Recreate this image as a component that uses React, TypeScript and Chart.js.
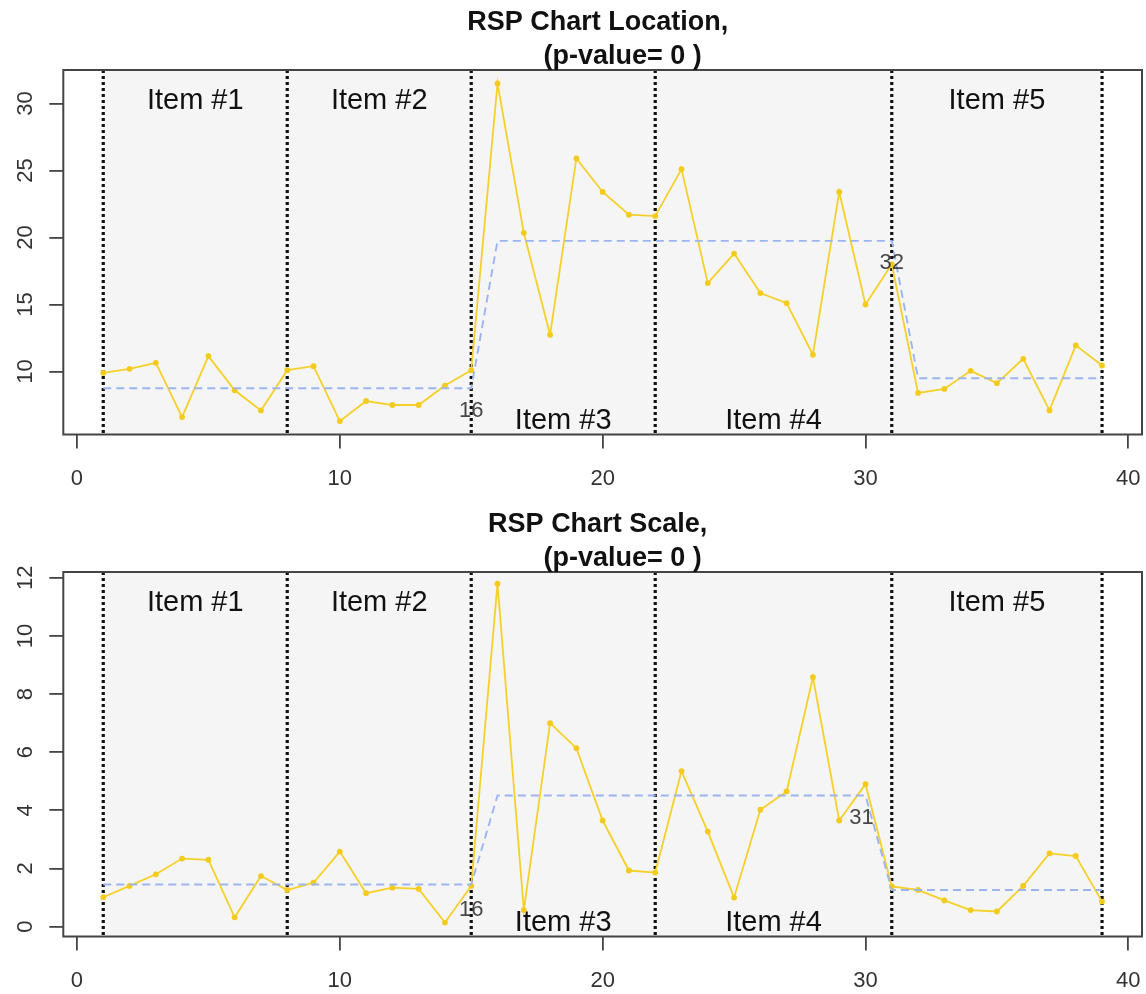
import React, { useEffect, useRef } from 'react';
import { Chart, registerables } from 'chart.js';

Chart.register(...registerables);

// ---------- data ----------
const observationIndex = [
  1, 2, 3, 4, 5, 6, 7, 8, 9, 10, 11, 12, 13, 14, 15, 16, 17, 18, 19, 20,
  21, 22, 23, 24, 25, 26, 27, 28, 29, 30, 31, 32, 33, 34, 35, 36, 37, 38, 39,
];

const locationValues = [
  9.9, 10.2, 10.65, 6.6, 11.15, 8.6, 7.1, 10.1, 10.4, 6.3, 7.8, 7.5, 7.5, 8.95, 10.1,
  31.5, 20.35, 12.75, 25.9, 23.4, 21.7, 21.6, 25.1, 16.6, 18.8, 15.85, 15.1, 11.25, 23.4, 15.0, 18.0,
  8.4, 8.7, 10.05, 9.13, 10.95, 7.1, 11.95, 10.45,
];

const scaleValues = [
  1.01, 1.4, 1.8, 2.34, 2.3, 0.32, 1.74, 1.26, 1.51, 2.58, 1.15, 1.34, 1.3, 0.14, 1.4,
  11.8, 0.57, 7.0, 6.14, 3.65, 1.93, 1.86, 5.35, 3.27, 1.0, 4.02, 4.65, 8.58, 3.65, 4.9,
  1.38, 1.26, 0.9, 0.57, 0.52, 1.4, 2.52, 2.43, 0.86,
];

const locationCenterX = [1, 15, 16, 31, 32, 39];
const locationCenterY = [8.75, 8.75, 19.75, 19.75, 9.5, 9.5];
const scaleCenterX = [1, 15, 16, 30, 31, 39];
const scaleCenterY = [1.45, 1.45, 4.51, 4.51, 1.26, 1.26];

const segmentBoundaries = [1, 8, 15, 22, 31, 39];
const itemLabels = ['Item #1', 'Item #2', 'Item #3', 'Item #4', 'Item #5'];
const itemLabelSides = ['top', 'top', 'bottom', 'bottom', 'top'];

const xTickValues = [0, 10, 20, 30, 40];
const locationYTicks = [10, 15, 20, 25, 30];
const scaleYTicks = [0, 2, 4, 6, 8, 10, 12];

const locationChangeText = ['16', '32'];
const locationChangeX = [15, 31];
const locationChangeY = [7.03, 18.1];
const scaleChangeText = ['16', '31'];
const scaleChangeX = [15, 29.85];
const scaleChangeY = [0.56, 3.73];

const locationTitle = ['RSP Chart Location,', '(p-value= 0 )'];
const scaleTitle = ['RSP Chart Scale,', '(p-value= 0 )'];

const xRange = [-0.52, 40.52];
const locationYRange = [5.3, 32.5];
const scaleYRange = [-0.34, 12.2];

// ---------- styling ----------
const FONT = "'Liberation Sans', Arial, Helvetica, sans-serif";
const YELLOW = '#f6d02a';
const BLUE = '#9db5ef';

const rspPlugin = {
  id: 'rspDecor',
  beforeDatasetsDraw(chart: any, _args: any, opts: any) {
    const { ctx, chartArea } = chart;
    const { top, bottom } = chartArea;
    const x = chart.scales.x;
    const b: number[] = opts.bounds;
    ctx.save();
    const x0 = x.getPixelForValue(b[0]);
    const x1 = x.getPixelForValue(b[b.length - 1]);
    ctx.fillStyle = '#f5f5f5';
    ctx.fillRect(x0, top, x1 - x0, bottom - top);
    ctx.strokeStyle = '#111111';
    ctx.lineWidth = 3.2;
    ctx.lineCap = 'butt';
    ctx.setLineDash([3, 3]);
    for (const v of b) {
      const px = x.getPixelForValue(v);
      ctx.beginPath();
      ctx.moveTo(px, top);
      ctx.lineTo(px, bottom);
      ctx.stroke();
    }
    ctx.restore();
  },
  afterDatasetsDraw(chart: any, _args: any, opts: any) {
    const { ctx, chartArea } = chart;
    const { top, bottom } = chartArea;
    const x = chart.scales.x;
    const y = chart.scales.y;
    const b: number[] = opts.bounds;
    ctx.save();
    ctx.font = `29px ${FONT}`;
    ctx.fillStyle = '#111111';
    ctx.textAlign = 'center';
    ctx.textBaseline = 'alphabetic';
    opts.labels.forEach((label: string, i: number) => {
      const mid = (x.getPixelForValue(b[i]) + x.getPixelForValue(b[i + 1])) / 2;
      const by = opts.sides[i] === 'top' ? top + 39.3 : bottom - 6;
      ctx.fillText(label, mid, by);
    });
    ctx.font = `22px ${FONT}`;
    ctx.fillStyle = 'rgba(40,40,40,0.85)';
    ctx.textBaseline = 'middle';
    opts.changeText.forEach((t: string, i: number) => {
      ctx.fillText(t, x.getPixelForValue(opts.changeX[i]), y.getPixelForValue(opts.changeY[i]));
    });
    ctx.restore();
  },
  afterDraw(chart: any, _args: any, opts: any) {
    const { ctx, chartArea } = chart;
    const { left, right, top, bottom } = chartArea;
    ctx.save();
    ctx.strokeStyle = '#444444';
    ctx.lineWidth = 2;
    ctx.setLineDash([]);
    ctx.strokeRect(left, top, right - left, bottom - top);
    const cx = (left + right) / 2;
    ctx.font = `bold 27px ${FONT}`;
    ctx.fillStyle = '#111111';
    ctx.textAlign = 'center';
    ctx.textBaseline = 'alphabetic';
    ctx.fillText(opts.title[0], cx - 5, 30);
    ctx.fillText(opts.title[1], cx + 20, 64);
    ctx.restore();
  },
};

type PanelSpec = {
  values: number[];
  centerX: number[];
  centerY: number[];
  yRange: number[];
  yTicks: number[];
  changeText: string[];
  changeX: number[];
  changeY: number[];
  title: string[];
  height: number;
};

function makeConfig(p: PanelSpec): any {
  return {
    type: 'line',
    data: {
      datasets: [
        {
          data: p.centerX.map((xv, i) => ({ x: xv, y: p.centerY[i] })),
          borderColor: BLUE,
          borderWidth: 1.9,
          borderDash: [8, 5],
          pointRadius: 0,
          fill: false,
          tension: 0,
        },
        {
          data: observationIndex.map((xv, i) => ({ x: xv, y: p.values[i] })),
          borderColor: YELLOW,
          backgroundColor: YELLOW,
          borderWidth: 1.8,
          pointRadius: 2.9,
          pointBorderWidth: 0,
          pointBackgroundColor: '#f3cb1c',
          fill: false,
          tension: 0,
        },
      ],
    },
    options: {
      responsive: false,
      animation: false,
      devicePixelRatio: 1,
      layout: { padding: { top: 70, left: 0, right: 3, bottom: 0 } },
      plugins: {
        legend: { display: false },
        tooltip: { enabled: false },
        title: { display: false },
        rspDecor: {
          bounds: segmentBoundaries,
          labels: itemLabels,
          sides: itemLabelSides,
          changeText: p.changeText,
          changeX: p.changeX,
          changeY: p.changeY,
          title: p.title,
        },
      },
      scales: {
        x: {
          type: 'linear',
          min: xRange[0],
          max: xRange[1],
          afterBuildTicks: (s: any) => {
            s.ticks = xTickValues.map((value) => ({ value }));
          },
          afterFit: (s: any) => {
            s.height = p.height - 434.5;
            s.paddingLeft = 0;
            s.paddingRight = 0;
          },
          grid: { drawOnChartArea: false, drawTicks: true, tickLength: 14, color: '#444444', lineWidth: 1.8 },
          border: { display: false },
          ticks: { font: { family: FONT, size: 22 }, color: '#333333', padding: 17, maxRotation: 0, minRotation: 0, autoSkip: false },
        },
        y: {
          type: 'linear',
          min: p.yRange[0],
          max: p.yRange[1],
          afterBuildTicks: (s: any) => {
            s.ticks = p.yTicks.map((value) => ({ value }));
          },
          afterFit: (s: any) => {
            s.width = 63.3;
            s.paddingTop = 0;
            s.paddingBottom = 0;
          },
          grid: { drawOnChartArea: false, drawTicks: true, tickLength: 14, color: '#444444', lineWidth: 1.8 },
          border: { display: false },
          ticks: {
            font: { family: FONT, size: 22 },
            color: '#333333',
            padding: 11,
            minRotation: 90,
            maxRotation: 90,
            crossAlign: 'center',
            autoSkip: false,
          },
        },
      },
    },
    plugins: [rspPlugin],
  };
}

function Panel({ spec }: { spec: PanelSpec }) {
  const ref = useRef<HTMLCanvasElement | null>(null);
  useEffect(() => {
    if (!ref.current) return;
    const chart = new Chart(ref.current, makeConfig(spec));
    return () => chart.destroy();
  }, [spec]);
  return (
    <canvas
      ref={ref}
      width={1146}
      height={spec.height}
      style={{ display: 'block', width: 1146, height: spec.height }}
    />
  );
}

const topSpec: PanelSpec = {
  values: locationValues,
  centerX: locationCenterX,
  centerY: locationCenterY,
  yRange: locationYRange,
  yTicks: locationYTicks,
  changeText: locationChangeText,
  changeX: locationChangeX,
  changeY: locationChangeY,
  title: locationTitle,
  height: 502,
};

const bottomSpec: PanelSpec = {
  values: scaleValues,
  centerX: scaleCenterX,
  centerY: scaleCenterY,
  yRange: scaleYRange,
  yTicks: scaleYTicks,
  changeText: scaleChangeText,
  changeX: scaleChangeX,
  changeY: scaleChangeY,
  title: scaleTitle,
  height: 492,
};

export default function App() {
  return (
    <div style={{ position: 'absolute', left: 0, top: 0, width: 1146, height: 994, background: '#ffffff' }}>
      <Panel spec={topSpec} />
      <Panel spec={bottomSpec} />
    </div>
  );
}
